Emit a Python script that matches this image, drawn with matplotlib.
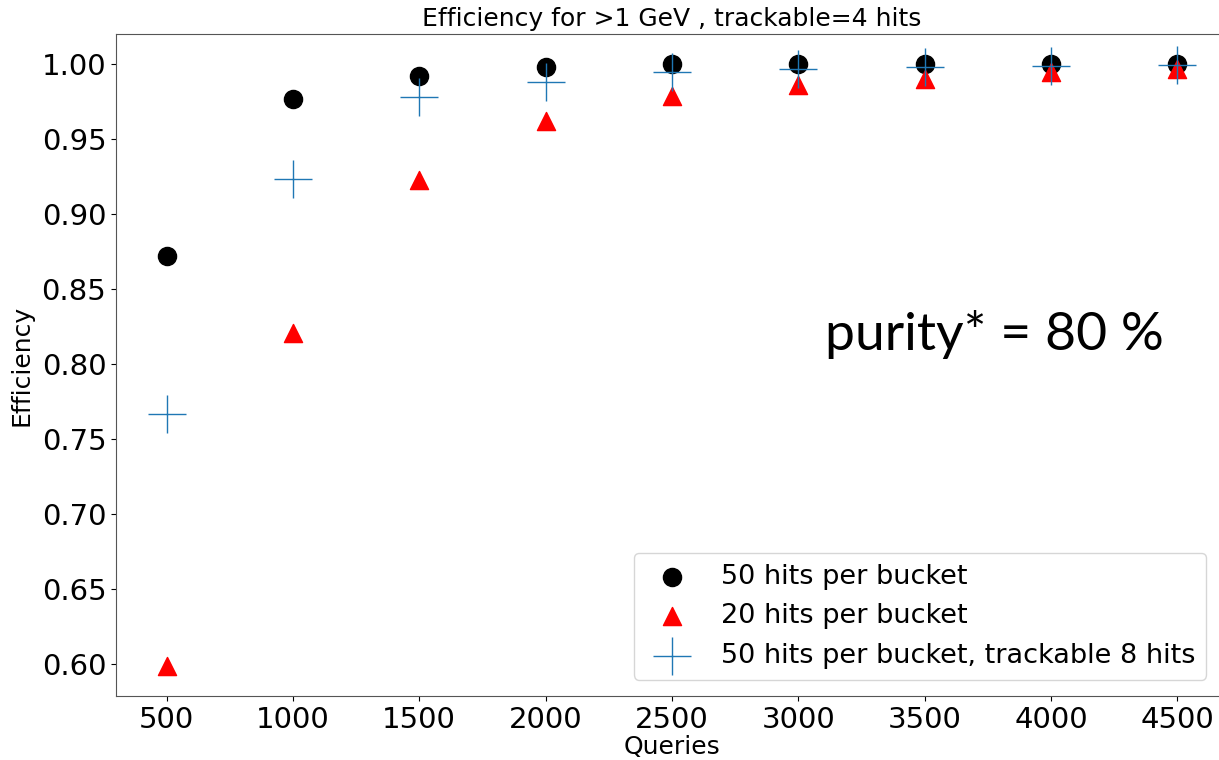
import matplotlib.pyplot as plt
import numpy as np

queries = [500, 1000, 1500, 2000, 2500, 3000, 3500, 4000, 4500]
eff_50 = [0.872, 0.977, 0.992, 0.998, 1.000, 1.000, 1.000, 1.000, 1.000]
eff_20 = [0.599, 0.821, 0.923, 0.962, 0.979, 0.986, 0.990, 0.995, 0.997]
eff_50_t8 = [0.767, 0.9235, 0.978, 0.988, 0.995, 0.997, 0.998, 0.999, 0.9995]

fig = plt.figure(figsize=(12.19, 7.6), dpi=100)
ax = fig.add_axes([0.0952, 0.0842, 0.912, 0.871])

ax.scatter(queries, eff_50, c='black', s=170, marker='o', label='50 hits per bucket')
ax.scatter(queries, eff_20, c='red', s=170, marker='^', label='20 hits per bucket')
ax.scatter(queries, eff_50_t8, c='tab:blue', s=750, marker='+', linewidths=1,
           label='50 hits per bucket, trackable 8 hits')

ax.set_xticks(queries)
ax.set_xlim(300, 4700)
ax.tick_params(labelsize=21)
ax.set_xlabel('Queries', fontsize=18, labelpad=1)
ax.set_ylabel('Efficiency', fontsize=18, labelpad=6)
ax.set_title('Efficiency for >1 GeV , trackable=4 hits', fontsize=18)
for s in ax.spines.values():
    s.set_color('#555555')
# the original is cropped, right border not shown
ax.spines['right'].set_visible(False)

ax.legend(loc='lower right', fontsize=19.5, borderaxespad=0.6, bbox_to_anchor=(0.995, 0.0))

fig.text(0.677, 0.54, 'purity* = 80 %', fontsize=38.5, family='Lato')

fig.savefig('out.png', dpi=100)
